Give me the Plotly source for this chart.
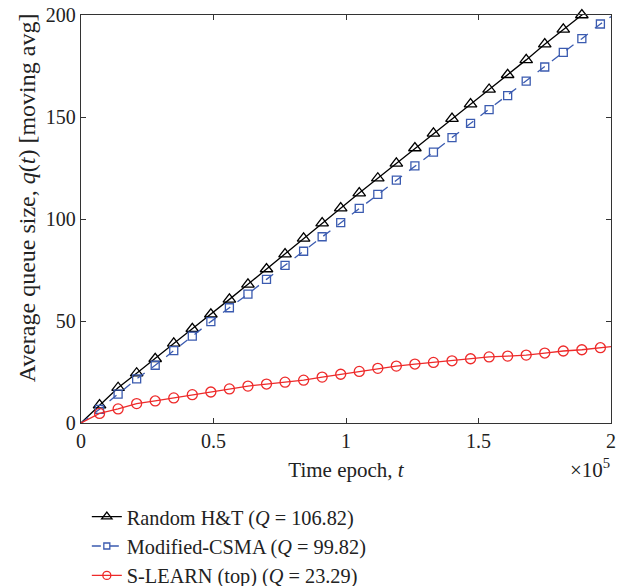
import plotly.graph_objects as go

# marker epochs (t = 7000 * k)
t_markers = [7000 * k for k in range(1, 29)]
t_end = 200000

random_ht = [8.8, 17.3, 24.4, 31.5, 39.0, 46.2, 53.3, 60.6, 68.0, 75.5, 82.8, 90.5,
             98.0, 105.3, 112.7, 120.0, 127.3, 134.8, 142.0, 149.2, 156.3, 163.5,
             170.7, 178.0, 185.7, 193.0, 200.0]
random_ht_end = 210.5

modified_csma = [6.7, 14.2, 21.6, 28.3, 35.5, 42.6, 49.7, 56.5, 63.2, 70.4, 77.3, 84.2,
                 91.3, 98.2, 105.2, 112.1, 119.1, 126.0, 132.8, 139.9, 146.9, 153.6,
                 160.5, 167.6, 174.5, 181.7, 188.4, 195.6]
modified_csma_end = 199.2

s_learn = [4.7, 6.9, 9.5, 10.8, 12.3, 13.9, 15.2, 16.7, 18.1, 19.1, 20.0, 21.0,
           22.5, 23.9, 25.3, 26.8, 27.9, 28.9, 29.7, 30.5, 31.5, 32.4, 32.8, 33.3,
           34.3, 35.3, 35.9, 36.9]
s_learn_end = 37.4

names = ["Random H&T (<i>Q</i> = 106.82)",
         "Modified-CSMA (<i>Q</i> = 99.82)",
         "S-LEARN (top) (<i>Q</i> = 23.29)"]
colors = ["#000000", "#3b5bb0", "#ee2a2a"]
symbols = ["triangle-up-open", "square-open", "circle-open"]
dashes = ["solid", "dash", "solid"]
msizes = [11, 8, 10]

x_ticks = [0, 50000, 100000, 150000, 200000]
x_ticktext = ["0", "0.5", "1", "1.5", "2"]
y_ticks = [0, 50, 100, 150, 200]

series = [
    (t_markers[:27], random_ht, random_ht_end),
    (t_markers, modified_csma, modified_csma_end),
    (t_markers, s_learn, s_learn_end),
]

fig = go.Figure()
for i, (tx, vals, vend) in enumerate(series):
    fig.add_trace(go.Scatter(
        x=[0] + list(tx) + [t_end], y=[0] + list(vals) + [vend],
        mode="lines", line=dict(color=colors[i], width=1.3, dash=dashes[i]),
        showlegend=False, hoverinfo="skip"))
    fig.add_trace(go.Scatter(
        x=tx, y=vals, mode="markers", cliponaxis=False,
        marker=dict(symbol=symbols[i], size=msizes[i], color=colors[i],
                    line=dict(width=1.3, color=colors[i])),
        showlegend=False))
    fig.add_trace(go.Scatter(
        x=[None], y=[None], mode="lines+markers", name=names[i],
        line=dict(color=colors[i], width=1.3, dash=dashes[i]),
        marker=dict(symbol=symbols[i], size=msizes[i] - 2, color=colors[i],
                    line=dict(width=1.3, color=colors[i]))))

font_family = "Liberation Serif"
fig.update_layout(
    width=626, height=586,
    margin=dict(l=81, r=15, t=15, b=163, autoexpand=False),
    paper_bgcolor="white", plot_bgcolor="white",
    font=dict(family=font_family, size=20, color="#222222"),
    showlegend=True,
    legend=dict(x=0.011, y=0.152, xref="paper", yref="container",
                xanchor="left", yanchor="top",
                orientation="v", font=dict(size=20.3, family=font_family, color="#222222"),
                bgcolor="rgba(0,0,0,0)", tracegroupgap=0),
    xaxis=dict(range=[0, 200000], tickvals=x_ticks, ticktext=x_ticktext,
               ticks="inside", ticklen=5, tickcolor="#333333",
               tickfont=dict(size=20, family=font_family),
               showline=True, linecolor="#333333", linewidth=1.3, mirror="ticks",
               showgrid=False, zeroline=False,
               title=dict(text="Time epoch, <i>t</i>", standoff=11,
                          font=dict(size=21, family=font_family))),
    yaxis=dict(range=[0, 200], tickvals=y_ticks,
               ticks="inside", ticklen=5, tickcolor="#333333",
               tickfont=dict(size=20, family=font_family),
               showline=True, linecolor="#333333", linewidth=1.3, mirror="ticks",
               showgrid=False, zeroline=False,
               title=dict(text="&nbsp;" * 7
                               + "Average queue size, <i>q</i>(<i>t</i>) [moving avg]",
                          standoff=3, font=dict(size=24, family=font_family))),
    annotations=[dict(text="×10<sup>5</sup>", xref="paper", yref="paper",
                      x=1.002, y=-0.112, xanchor="right", yanchor="middle",
                      showarrow=False, font=dict(size=21, family=font_family))],
)

fig.write_html("out.html")
